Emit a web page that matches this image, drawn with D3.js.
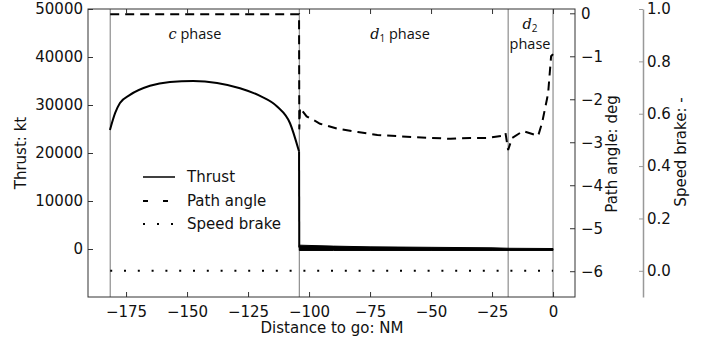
<!DOCTYPE html>
<html>
<head>
<meta charset="utf-8">
<script src="https://cdn.jsdelivr.net/npm/d3@7"></script>
<style>
  body { margin: 0; background: #fff; }
  text { font-family: "DejaVu Sans", sans-serif; fill: #111; }
</style>
</head>
<body>
<script>
// thrust (kt) during the c phase, then the drop at the phase change
const thrustDist = [-181.6, -179.5, -177.5, -173.4, -165.2, -157, -147.5, -137.7, -128.3, -120.1, -113.1, -107.8, -104.1, -104.0];
const thrustVal  = [24800, 28300, 30400, 32100, 34000, 34800, 35000, 34600, 33500, 31900, 29700, 26200, 20300, 300];
// thrust band during the d phases (upper / lower edge)
const bandDist = [-104.0, -90, -75, -50, -25, -18, 0];
const bandHi   = [800, 600, 450, 350, 250, 150, 100];
const bandLo   = [-300, -300, -300, -300, -300, -300, -300];

// path angle (deg)
const angDist = [-181.5, -104.1, -104.0, -103.7, -101, -97, -95.5, -88, -80, -72, -57, -42, -34, -27, -21, -19.5, -18.4, -16.8, -12.3, -6.1, -4.5, -2.5, -2, -0.8, 0];
const angVal  = [-0.02, -0.02, -2.7, -2.2, -2.4, -2.52, -2.57, -2.69, -2.76, -2.83, -2.88, -2.92, -2.9, -2.9, -2.85, -2.78, -3.18, -2.9, -2.74, -2.85, -2.55, -2.0, -1.85, -1.0, -0.95];

// speed brake (-)
const brakeDist = [-181.5, 0];
const brakeVal  = [0, 0];

// phase boundaries
const phaseEdges = [-181.5, -104, -18.4, 0];

const xTicks = [-175, -150, -125, -100, -75, -50, -25, 0];
const thrustTicks = [0, 10000, 20000, 30000, 40000, 50000];
const angTicks = [0, -1, -2, -3, -4, -5, -6];
const brakeTicks = [0, 0.2, 0.4, 0.6, 0.8, 1.0];

const W = 720, H = 338;
const L = 88, R = 575, T = 9, B = 297;

const svg = d3.select("body").append("svg")
  .attr("width", W).attr("height", H);

const x = d3.scaleLinear().domain([-190.6, 9]).range([L, R]);
const yT = d3.scaleLinear().domain([-10000, 50000]).range([B, T]);
const yA = d3.scaleLinear().domain([-6.6, 0.1]).range([B, T]);
const yS = d3.scaleLinear().domain([-0.1, 1.0]).range([B, T]);

svg.append("clipPath").attr("id", "clip")
  .append("rect").attr("x", L).attr("y", T).attr("width", R - L).attr("height", B - T);

const plot = svg.append("g").attr("clip-path", "url(#clip)");

// phase boundary lines
plot.selectAll("line.phase")
  .data(phaseEdges)
  .enter().append("line")
  .attr("class", "phase")
  .attr("x1", d => x(d)).attr("x2", d => x(d))
  .attr("y1", T).attr("y2", B)
  .attr("stroke", "#777").attr("stroke-width", 1);

// thrust
const thrustPts = thrustDist.map((d, i) => [d, thrustVal[i]]);
plot.append("path")
  .attr("d", d3.line().x(d => x(d[0])).y(d => yT(d[1])).curve(d3.curveMonotoneX)(thrustPts.slice(0, 13)))
  .attr("fill", "none").attr("stroke", "#000").attr("stroke-width", 2);
plot.append("path")
  .attr("d", d3.line().x(d => x(d[0])).y(d => yT(d[1]))(thrustPts.slice(12)))
  .attr("fill", "none").attr("stroke", "#000").attr("stroke-width", 2);

const bandPts = bandDist.map((d, i) => ({d, hi: bandHi[i], lo: bandLo[i]}));
plot.append("path")
  .attr("d", d3.area().x(p => x(p.d)).y0(p => yT(p.lo)).y1(p => yT(p.hi))(bandPts))
  .attr("fill", "#000").attr("stroke", "#000").attr("stroke-width", 1);

// path angle
const angPts = angDist.map((d, i) => [d, angVal[i]]);
plot.append("path")
  .attr("d", d3.line().x(d => x(d[0])).y(d => yA(d[1]))(angPts))
  .attr("fill", "none").attr("stroke", "#000").attr("stroke-width", 2)
  .attr("stroke-dasharray", "9,6");

// speed brake
const brakePts = brakeDist.map((d, i) => [d, brakeVal[i]]);
plot.append("path")
  .attr("d", d3.line().x(d => x(d[0])).y(d => yS(d[1]))(brakePts))
  .attr("fill", "none").attr("stroke", "#000").attr("stroke-width", 2)
  .attr("stroke-dasharray", "2,11.8");

// frame
svg.append("rect")
  .attr("x", L).attr("y", T).attr("width", R - L).attr("height", B - T)
  .attr("fill", "none").attr("stroke", "#333").attr("stroke-width", 1);

// axes
const fmt = d3.format("d");
const minus = s => String(s).replace("-", "\u2212");

const gx = svg.append("g").attr("transform", `translate(0,${B})`)
  .call(d3.axisBottom(x).tickValues(xTicks).tickSizeInner(-5).tickSizeOuter(0).tickPadding(9)
    .tickFormat(d => minus(fmt(d))));
const gxTop = svg.append("g").attr("transform", `translate(0,${T})`)
  .call(d3.axisTop(x).tickValues(xTicks).tickSizeInner(-5).tickSizeOuter(0).tickFormat(""));
const gy = svg.append("g").attr("transform", `translate(${L},0)`)
  .call(d3.axisLeft(yT).tickValues(thrustTicks).tickSizeInner(-5).tickSizeOuter(0).tickPadding(5)
    .tickFormat(d => minus(fmt(d))));
const gA = svg.append("g").attr("transform", `translate(${R},0)`)
  .call(d3.axisRight(yA).tickValues(angTicks).tickSizeInner(-5).tickSizeOuter(0).tickPadding(6)
    .tickFormat(d => minus(fmt(d))));
const gS = svg.append("g").attr("transform", `translate(643,0)`)
  .call(d3.axisRight(yS).tickValues(brakeTicks).tickSizeInner(-4).tickSizeOuter(0).tickPadding(4)
    .tickFormat(d3.format(".1f")));

[gx, gxTop, gy, gA].forEach(g => {
  g.select(".domain").remove();
  g.selectAll(".tick line").attr("stroke", "#333");
});
gS.select(".domain").attr("stroke", "#999").attr("stroke-width", 1.5);
gS.selectAll(".tick line").attr("stroke", "#999");
svg.selectAll(".tick text")
  .style("font-family", "DejaVu Sans, sans-serif").style("font-size", "15px").attr("fill", "#111");

// axis titles
svg.append("text").attr("transform", "translate(26,153) rotate(-90)")
  .attr("text-anchor", "middle").style("font-size", "15px").text("Thrust: kt");
svg.append("text").attr("x", 332).attr("y", 333)
  .attr("text-anchor", "middle").style("font-size", "15px").text("Distance to go: NM");
svg.append("text").attr("transform", "translate(617,154) rotate(-90)")
  .attr("text-anchor", "middle").style("font-size", "15px").text("Path angle: deg");
svg.append("text").attr("transform", "translate(686,152) rotate(-90)")
  .attr("text-anchor", "middle").style("font-size", "15px").text("Speed brake: -");

// phase labels
const pf = "'Open Sans', 'Noto Sans', sans-serif";
const c1 = svg.append("text").attr("x", 195).attr("y", 39).attr("text-anchor", "middle")
  .style("font-family", pf).style("font-size", "14.5px");
c1.append("tspan").style("font-style", "italic").style("font-family", "'DejaVu Serif', serif").text("c");
c1.append("tspan").text(" phase");

const d1 = svg.append("text").attr("x", 400).attr("y", 39).attr("text-anchor", "middle")
  .style("font-family", pf).style("font-size", "14.5px");
d1.append("tspan").style("font-style", "italic").style("font-family", "'DejaVu Serif', serif").text("d");
d1.append("tspan").attr("dy", 3).style("font-size", "10px").text("1");
d1.append("tspan").attr("dy", -3).text(" phase");

const d2 = svg.append("text").attr("x", 530).attr("y", 29).attr("text-anchor", "middle")
  .style("font-family", pf).style("font-size", "14.5px");
d2.append("tspan").style("font-style", "italic").style("font-family", "'DejaVu Serif', serif").text("d");
d2.append("tspan").attr("dy", 3).style("font-size", "10px").text("2");
svg.append("text").attr("x", 530).attr("y", 49).attr("text-anchor", "middle")
  .style("font-family", pf).style("font-size", "14.5px").text("phase");

// legend
const legend = [
  {name: "Thrust", dash: null, y: 177},
  {name: "Path angle", dash: "5,15", y: 201},
  {name: "Speed brake", dash: "2,12", y: 224}
];
const lg = svg.append("g");
lg.selectAll("line").data(legend).enter().append("line")
  .attr("x1", 143).attr("x2", 175)
  .attr("y1", d => d.y).attr("y2", d => d.y)
  .attr("stroke", "#000").attr("stroke-width", d => d.dash ? 2 : 1.5)
  .attr("stroke-dasharray", d => d.dash);
lg.selectAll("text").data(legend).enter().append("text")
  .attr("x", 187).attr("y", d => d.y + 5)
  .style("font-size", "15px").text(d => d.name);
</script>
</body>
</html>
